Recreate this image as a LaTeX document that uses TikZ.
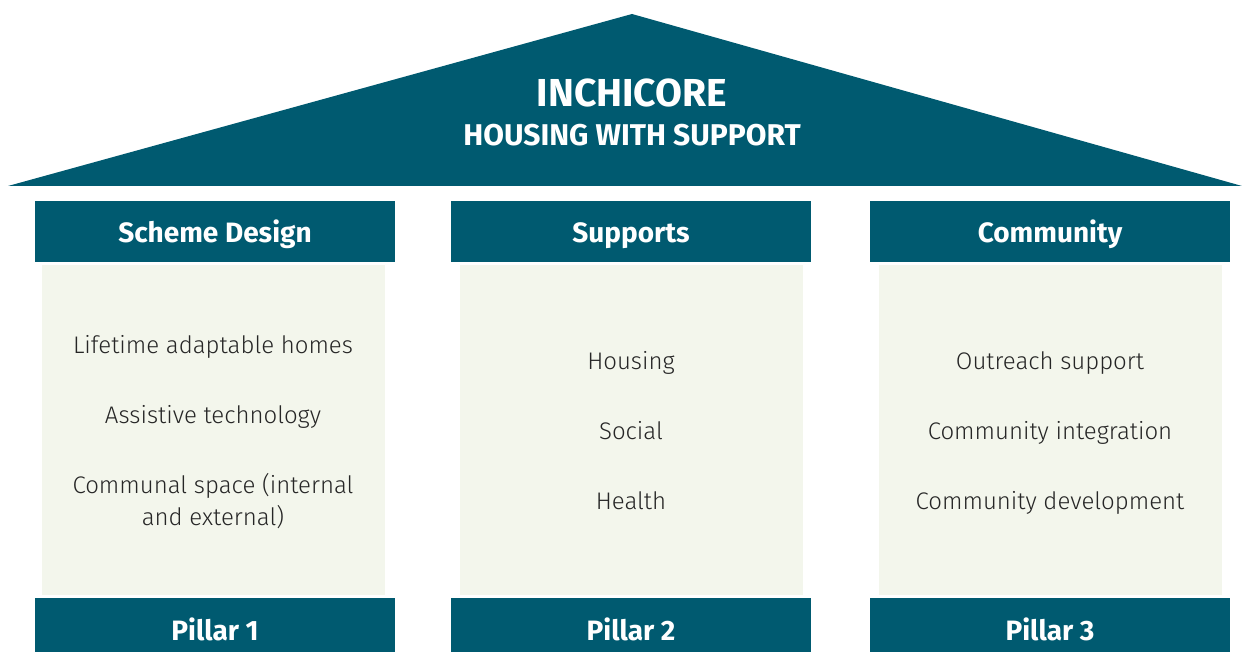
\documentclass[tikz,border=0pt]{standalone}
\usepackage{fontspec}
\setmainfont{Fira Sans}
\newfontfamily\lightfont{Fira Sans Light}
\definecolor{teal}{RGB}{0,90,112}
\definecolor{panel}{RGB}{243,246,236}
\begin{document}
\begin{tikzpicture}[x=1pt,y=-1pt,
  paneltext/.style={font=\lightfont\fontsize{24}{32}\selectfont, text=black!85, align=center, anchor=base},
  headtext/.style={font=\bfseries\fontsize{28}{32}\selectfont, text=white, anchor=base},
]
\useasboundingbox (0,0) rectangle (1242,652);
% roof
\fill[teal] (8,186) -- (632,14) -- (1242,186) -- cycle;
\node[font=\bfseries\fontsize{39}{44}\selectfont, text=white, anchor=base] (title) at (632,106.5) {INCHICORE};
\node[font=\bfseries\fontsize{30}{34}\selectfont, text=white, anchor=base] (sub) at (632,145.5) {HOUSING WITH SUPPORT};
% columns
\foreach \x/\px/\h/\p [count=\i] in {35/42/Scheme Design/Pillar 1, 451/460/Supports/Pillar 2, 870/879/Community/Pillar 3}{
  \fill[teal] (\x,201) rectangle ++(360,61);
  \fill[panel] (\px,265) rectangle ++(343,330);
  \fill[teal] (\x,598) rectangle ++(360,54);
  \node[headtext] (h\i) at (\x+180,243) {\h};
  \node[headtext] (p\i) at (\x+180,640) {\p};
}
\node[paneltext] (a1) at (213,353) {Lifetime adaptable homes};
\node[paneltext] (a2) at (213,423) {Assistive technology};
\node[paneltext] (a3) at (213,525) {Communal space (internal\\and external)};
\node[paneltext] (b1) at (631,369) {Housing};
\node[paneltext] (b2) at (631,439) {Social};
\node[paneltext] (b3) at (631,509) {Health};
\node[paneltext] (c1) at (1050,369) {Outreach support};
\node[paneltext] (c2) at (1050,439) {Community integration};
\node[paneltext] (c3) at (1050,509) {Community development};
\end{tikzpicture}
\end{document}
